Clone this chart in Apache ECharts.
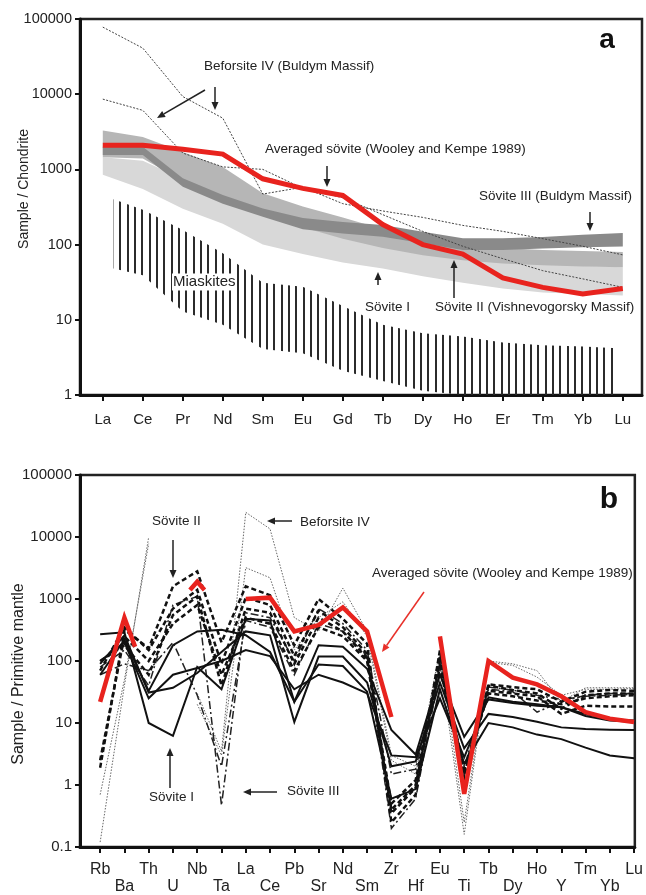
<!DOCTYPE html>
<html>
<head>
<meta charset="utf-8">
<script src="https://cdn.jsdelivr.net/npm/echarts@6/dist/echarts.min.js"></script>
<style>
  html, body { margin: 0; padding: 0; background: #fff; }
  #chart { width: 646px; height: 895px; }
</style>
</head>
<body>
<div id="chart"></div>
<script>
const FONT = '"Liberation Sans", Arial, Helvetica, sans-serif';

// ---------- (a) chondrite-normalised REE ----------
const reeLabels = ['La','Ce','Pr','Nd','Sm','Eu','Gd','Tb','Dy','Ho','Er','Tm','Yb','Lu'];
const reeAvgSovite   = [2100, 2100, 1850, 1600, 750, 560, 450, 185, 100, 75, 36, 27, 22, 26];
const reeBeforsiteA  = [78000, 41000, 9300, 4800, 470, 580, 350, 280, 230, 180, 150, 120, 95, 73];
const reeBeforsiteB  = [8600, 6100, 1650, 1080, 1000, 560, 420, 250, 150, 95, 65, 45, 35, 27];
const reeSoviteILow  = [850, 550, 300, 190, 100, 75, 58, 48, 38, 31, 26, 23, 22, 21];
const reeSoviteIHigh = [1450, 1300, 750, 500, 300, 220, 170, 130, 100, 80, 65, 56, 52, 50];
const reeSoviteIILow  = [1450, 1400, 700, 420, 250, 170, 120, 90, 72, 62, 56, 53, 51, 50];
const reeSoviteIIHigh = [3300, 2700, 1700, 1080, 480, 320, 230, 160, 120, 100, 90, 85, 82, 80];
const reeSoviteIIILow  = [1550, 1550, 590, 350, 234, 160, 141, 127, 104, 85, 85, 89, 92, 94];
const reeSoviteIIIHigh = [2000, 2000, 760, 456, 303, 225, 200, 182, 148, 121, 121, 126, 135, 143];
const miaskiteX      = [0.27, 1, 2, 3, 4, 5, 6, 7, 8, 9, 10, 11, 12, 12.86];
const miaskiteTop    = [400, 290, 156, 77, 31, 27.6, 15.3, 8.6, 6.6, 6.0, 5.0, 4.6, 4.4, 4.2];
const miaskiteBottom = [48, 39, 12.9, 8.6, 4.1, 3.6, 2.1, 1.54, 1.14, 1, 1, 1, 1, 1];
const reeTicks = [1, 10, 100, 1000, 10000, 100000];

// ---------- (b) primitive-mantle-normalised spidergram ----------
const pmLabels = ['Rb','Ba','Th','U','Nb','Ta','La','Ce','Pb','Sr','Nd','Sm','Zr','Hf','Eu','Ti','Tb','Dy','Ho','Y','Tm','Yb','Lu'];
// averaged sövite: [element position, value]; '-' breaks the line
const pmAvgSovite = [[0,22],[1,500],[1.44,170],[2,'-'],[3.7,1400],[4,1900],[4.3,1400],[5,'-'],
  [6,1000],[7,1050],[8,300],[9,380],[10,730],[11,300],[12,12.5],[13,'-'],
  [14,250],[15,0.72],[16,100],[17,54],[18,42],[19,27],[20,15],[21,11.7],[22,10.4]];
const pmSoviteI_1 = [270, 290, 10, 6.2, 80, 35, 480, 450, 22, 180, 170, 75, 7.7, 3.1, 60, 6.0, 24, 21, 19, 18, 13, 11, 10.5];
const pmSoviteI_2 = [90, 260, 31, 37, 64, 140, 300, 260, 10.4, 118, 118, 45, 2.0, 2.4, 45, 3.9, 14, 12.5, 10.5, 8.5, 8.0, 7.8, 7.7];
const pmSoviteI_3 = [60, 220, 33, 180, 300, 320, 260, 140, 22, 88, 83, 32, 0.6, 0.86, 35, 2.2, 10, 8.5, 6.5, 5.5, 4.0, 3.0, 2.7];
const pmSoviteI_4 = [100, 200, 25, 60, 77, 100, 150, 120, 35, 60, 45, 30, 3.0, 2.8, 25, 2.8, 26, 22, 20, 18, 14, 11.5, 11];
const pmSoviteII_1 = [1.9, 320, 160, 1600, 2800, 200, 1600, 1150, 180, 1000, 480, 190, 0.25, 0.7, 150, 1.0, 42, 38, 35, 22, 32, 34, 33];
const pmSoviteII_2 = [70, 350, 150, 700, 1400, 90, 1050, 800, 120, 650, 350, 130, 0.35, 0.9, 120, 1.3, 33, 30, 27, 14, 19, 18.5, 18.5];
const pmSoviteII_3 = [100, 180, 60, 550, 1100, 40, 700, 600, 90, 500, 300, 110, 0.5, 1.2, 100, 1.8, 30, 27, 23, 20, 25, 27, 28];
const pmSoviteII_4 = [2.5, 250, 100, 400, 800, 60, 500, 400, 70, 350, 250, 100, 0.4, 1.0, 80, 1.5, 40, 34, 30, 17, 28, 30, 30];
const pmSoviteIII_1 = [80, 150, 40, 800, 1100, 0.47, 600, 500, 100, 700, 400, 150, 1.5, 1.8, 90, 2.0, 35, 32, 15, 22, 28, 30, 30];
const pmSoviteIII_2 = [60, 90, 70, 200, 28, 2.0, 450, 350, 60, 400, 300, 120, 0.2, 0.6, 70, 1.5, 38, 34, 28, 24, 27, 28, 29];
const pmBeforsite_1 = [0.12, 40, 10000, null, 30, 3.5, 25000, 13500, 500, 300, 1500, 300, 3.0, 2.0, 100, 0.16, 100, 90, 70, 22, 37, 37, 37];
const pmBeforsite_2 = [0.7, 50, 7800, null, 20, 3.0, 3200, 2200, 150, 500, 900, 250, 2.5, 1.5, 150, 0.25, 95, 85, 55, 28, 35, 35, 36];
const pmTicks = [0.1, 1, 10, 100, 1000, 10000, 100000];

// ---------- helpers ----------
const toPts = arr => arr.map((v, i) => [i, v == null ? '-' : v]);

function line(xi, data, color, width, type, z) {
  return {
    type: 'line', xAxisIndex: xi, yAxisIndex: xi, data, symbol: 'none',
    silent: true, connectNulls: false, z,
    lineStyle: { color, width, type, join: 'miter', miterLimit: 6 }
  };
}

function band(xi, xs, lo, hi, fill, z) {
  return {
    type: 'custom', xAxisIndex: xi, yAxisIndex: xi, coordinateSystem: 'cartesian2d',
    silent: true, z, clip: true,
    data: [[xs[0], hi[0]]],
    renderItem: (params, api) => {
      const pts = [];
      for (let i = 0; i < xs.length; i++) pts.push(api.coord([xs[i], hi[i]]));
      for (let i = xs.length - 1; i >= 0; i--) pts.push(api.coord([xs[i], lo[i]]));
      return { type: 'polygon', shape: { points: pts }, style: { fill } };
    }
  };
}

// vertical hatching tile for the miaskite field
const hatch = document.createElement('canvas');
hatch.width = 22; hatch.height = 4;
(function () {
  const c = hatch.getContext('2d');
  c.fillStyle = '#2b2b2b';
  [2, 9, 17].forEach(x => c.fillRect(x, 0, 2, 4));
})();

const logLabel = v => {
  const e = Math.round(Math.log10(v));
  return e < 0 ? Math.pow(10, e).toFixed(-e) : String(Math.round(Math.pow(10, e)));
};

function xAxis(grid, min, max, labels, fontSize, margin, twoRows) {
  const idx = labels.map((_, i) => i);
  return {
    type: 'value', gridIndex: grid, min, max,
    axisLine: { show: true, onZero: false, lineStyle: { color: '#111', width: 3 } },
    axisTick: { show: true, customValues: idx, length: 6, lineStyle: { color: '#111', width: 2 } },
    axisLabel: {
      customValues: idx, color: '#222', fontFamily: FONT, fontSize, margin,
      lineHeight: 17,
      formatter: v => {
        const n = labels[Math.round(v)];
        return twoRows && Math.round(v) % 2 === 1 ? '\n' + n : n;
      }
    },
    splitLine: { show: false }
  };
}

function yAxis(grid, min, max, ticks, fontSize) {
  return {
    type: 'log', logBase: 10, gridIndex: grid, min, max,
    axisLine: { show: true, onZero: false, lineStyle: { color: '#111', width: 3 } },
    axisTick: { show: true, customValues: ticks, length: 5, lineStyle: { color: '#111', width: 2 } },
    axisLabel: { customValues: ticks, color: '#222', fontFamily: FONT, fontSize, margin: 8, formatter: logLabel },
    splitLine: { show: false }, minorTick: { show: false }
  };
}

function arrow(x1, y1, x2, y2, color) {
  const a = Math.atan2(y2 - y1, x2 - x1), L = 8, W = 3.5;
  const bx = x2 - L * Math.cos(a), by = y2 - L * Math.sin(a);
  return [
    { type: 'line', shape: { x1, y1, x2: bx, y2: by }, style: { stroke: color, lineWidth: 1.5 }, z: 100 },
    { type: 'polygon', shape: { points: [[x2, y2], [bx + W * Math.sin(a), by - W * Math.cos(a)], [bx - W * Math.sin(a), by + W * Math.cos(a)]] },
      style: { fill: color }, z: 100 }
  ];
}

function label(text, x, y, size, extra) {
  return Object.assign({
    type: 'text', x, y, z: 100,
    style: Object.assign({ text, fill: '#222', fontFamily: FONT, fontSize: size || 13.5, align: 'left', verticalAlign: 'middle' }, (extra && extra.style) || {})
  }, extra && extra.rotation != null ? { rotation: extra.rotation } : {});
}

const graphic = [
  // panel a annotations
  label('Beforsite IV (Buldym Massif)', 204, 66),
  label('Averaged sövite (Wooley and Kempe 1989)', 265, 149),
  label('Sövite III (Buldym Massif)', 479, 196),
  label('Sövite I', 365, 307.5),
  label('Sövite II (Vishnevogorsky Massif)', 435, 307.5),
  label('Miaskites', 172, 282, 15, { style: { backgroundColor: '#fff', padding: [1, 1, 1, 1] } }),
  label('a', 607, 40, 28, { style: { fontWeight: 'bold', align: 'center', fill: '#111' } }),
  label('Sample / Chondrite', 24, 189, 14, { rotation: Math.PI / 2, style: { align: 'center' } }),
  ...arrow(205, 90, 157, 118, '#222'),
  ...arrow(215, 87, 215, 110, '#222'),
  ...arrow(327, 166, 327, 187, '#222'),
  ...arrow(590, 212, 590, 231, '#222'),
  ...arrow(378, 285, 378, 272, '#222'),
  ...arrow(454, 298, 454, 260, '#222'),
  // panel b annotations
  label('Sövite II', 152, 521),
  label('Beforsite IV', 300, 522),
  label('Averaged sövite (Wooley and Kempe 1989)', 372, 573.5),
  label('Sövite I', 149, 797),
  label('Sövite III', 287, 791.5),
  label('b', 609, 500, 30, { style: { fontWeight: 'bold', align: 'center', fill: '#111' } }),
  label('Sample / Primitive mantle', 19, 674, 16, { rotation: Math.PI / 2, style: { align: 'center' } }),
  ...arrow(173, 540, 173, 578, '#222'),
  ...arrow(292, 521, 267, 521, '#222'),
  ...arrow(424, 592, 382, 652, '#e8312a'),
  ...arrow(170, 788, 170, 748, '#222'),
  ...arrow(277, 792, 243, 792, '#222')
];

const RED = '#e8231e';
const series = [
  // (a)
  band(0, reeLabels.map((_, i) => i), reeSoviteILow, reeSoviteIHigh, '#d8d8d8', 1),
  band(0, reeLabels.map((_, i) => i), reeSoviteIILow, reeSoviteIIHigh, '#b6b6b6', 2),
  band(0, reeLabels.map((_, i) => i), reeSoviteIIILow, reeSoviteIIIHigh, '#8a8a8a', 3),
  band(0, miaskiteX, miaskiteBottom, miaskiteTop, { image: hatch, repeat: 'repeat' }, 4),
  line(0, toPts(reeBeforsiteA), '#444', 1, [2, 1.5], 5),
  line(0, toPts(reeBeforsiteB), '#444', 1, [2, 1.5], 5),
  line(0, toPts(reeAvgSovite), RED, 5, 'solid', 6),
  // (b)
  line(1, toPts(pmBeforsite_1), '#666', 1, [1.5, 1.5], 5),
  line(1, toPts(pmBeforsite_2), '#666', 1, [1.5, 1.5], 5),
  line(1, toPts(pmSoviteIII_1), '#222', 1.5, [8, 3, 2, 3], 5),
  line(1, toPts(pmSoviteIII_2), '#222', 1.5, [8, 3, 2, 3], 5),
  line(1, toPts(pmSoviteII_1), '#111', 2.5, [5, 3], 5),
  line(1, toPts(pmSoviteII_2), '#111', 2.5, [5, 3], 5),
  line(1, toPts(pmSoviteII_3), '#111', 2.5, [5, 3], 5),
  line(1, toPts(pmSoviteII_4), '#111', 2.5, [5, 3], 5),
  line(1, toPts(pmSoviteI_1), '#111', 2, 'solid', 5),
  line(1, toPts(pmSoviteI_2), '#111', 2, 'solid', 5),
  line(1, toPts(pmSoviteI_3), '#111', 2, 'solid', 5),
  line(1, toPts(pmSoviteI_4), '#111', 2, 'solid', 5),
  line(1, pmAvgSovite, RED, 4.5, 'solid', 6)
];

const chart = echarts.init(document.getElementById('chart'), null, { renderer: 'canvas' });
chart.setOption({
  animation: false,
  backgroundColor: '#fff',
  grid: [
    { left: 80, top: 19, width: 562, height: 376, show: true, borderColor: '#222', borderWidth: 2.5, backgroundColor: 'transparent' },
    { left: 80, top: 475, width: 555, height: 379, show: true, borderColor: '#222', borderWidth: 2.5, backgroundColor: 'transparent' }
  ],
  xAxis: [
    xAxis(0, -0.57, 13.48, reeLabels, 15, 16, false),
    xAxis(1, -0.83, 22.03, pmLabels, 16, 14, true)
  ],
  yAxis: [
    yAxis(0, 1, 100000, reeTicks, 14.5),
    yAxis(1, 0.1, 100000, pmTicks, 15)
  ],
  series,
  graphic
});
</script>
</body>
</html>
